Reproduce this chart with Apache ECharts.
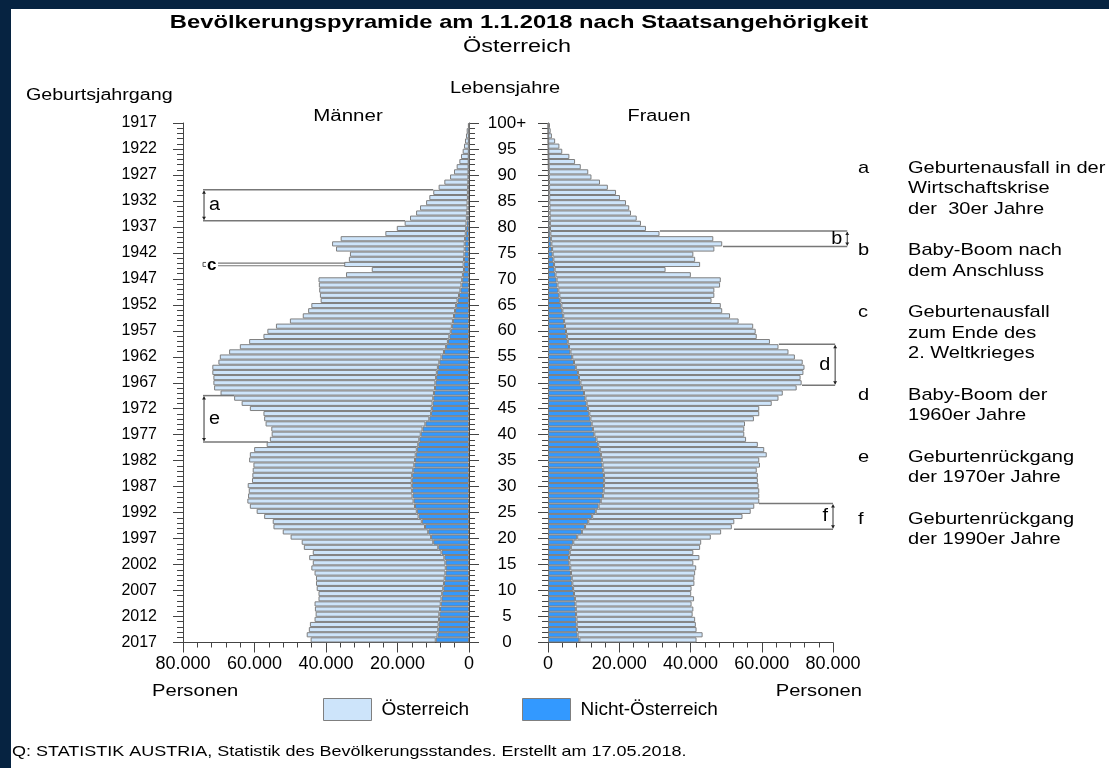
<!DOCTYPE html>
<html>
<head>
<meta charset="utf-8">
<title>Bevölkerungspyramide 2018</title>
<script src="https://cdn.jsdelivr.net/npm/echarts@6/dist/echarts.min.js"></script>
<style>
  html, body { margin: 0; padding: 0; background: #062341; }
  #panel { position: absolute; left: 11px; top: 9px; width: 1098px; height: 759px; background: #fff; }
  #chart { position: absolute; left: 0; top: 0; width: 1109px; height: 768px; }
</style>
</head>
<body>
<div id="panel"></div>
<div id="chart"></div>
<script>
// Lebensjahre 0 .. 100+ (Index = Alter)
var ages = [];
for (var i = 0; i <= 100; i++) ages.push(i === 100 ? '100+' : String(i));

// Achsenbeschriftung alle 5 Jahre
var ageLabels = ['0', '5', '10', '15', '20', '25', '30', '35', '40', '45', '50',
  '55', '60', '65', '70', '75', '80', '85', '90', '95', '100+'];
var yearLabels = ['2017', '2012', '2007', '2002', '1997', '1992', '1987', '1982', '1977', '1972', '1967',
  '1962', '1957', '1952', '1947', '1942', '1937', '1932', '1927', '1922', '1917'];

// Männer, Personen je Alter (0 .. 100+)
var menAT = [35000, 36600, 36200, 36000, 34800, 34600, 35000, 35300, 34400, 34600,
  35400, 35800, 36000, 36600, 37600, 37100, 37800, 36000, 37600, 36800,
  39300, 40700, 42400, 41700, 43200, 44800, 46200, 46500, 46000, 45700,
  45900, 44700, 44700, 44900, 45000, 46400, 46400, 45500, 42400, 41800,
  41700, 42300, 44700, 46200, 46900, 50900, 53400, 55700, 59700, 61800,
  62100, 62300, 62800, 63100, 61800, 62000, 60100, 57700, 55600, 52000,
  51300, 49200, 45600, 42300, 41100, 40500, 38300, 38900, 39500, 39900,
  40200, 32700, 25800, 33400, 32200, 32000, 36000, 37100, 34800, 22500,
  19400, 17300, 15900, 14300, 13300, 11600, 10800, 9700, 8250, 6700,
  5130, 4060, 3340, 2610, 2170, 1720, 1360, 1090, 820, 635,
  290];
var menNonAT = [9300, 8800, 8600, 8500, 8400, 8300, 8100, 7900, 7700, 7500,
  7200, 7000, 6800, 6600, 6500, 6600, 6900, 7700, 8600, 10000,
  10600, 11400, 12300, 13200, 14100, 14600, 15100, 15500, 15800, 15900,
  16000, 16000, 15900, 15600, 15300, 15100, 14900, 14600, 14200, 13900,
  13500, 13000, 12200, 11100, 10600, 10400, 10200, 10000, 9800, 9500,
  9400, 9200, 9000, 8700, 8300, 7700, 7000, 6400, 5900, 5500,
  5100, 4800, 4500, 4200, 3900, 3600, 3200, 2800, 2400, 2100,
  1900, 1700, 1400, 1500, 1400, 1300, 1200, 1200, 1100, 900,
  800, 700, 600, 500, 400, 400, 300, 300, 250, 200,
  170, 140, 110, 90, 70, 50, 40, 30, 20, 15,
  10];

// Frauen
var womenAT = [32900, 35100, 33550, 33450, 33320, 32720, 33000, 32600, 33450, 32900,
  33250, 34270, 34450, 34850, 35350, 34800, 36600, 34700, 36300, 35900,
  37500, 39100, 41200, 41000, 42200, 43500, 43700, 44500, 43900, 43700,
  43400, 43150, 43200, 43100, 44200, 44200, 46550, 46200, 44800, 42000,
  42100, 42500, 43050, 45900, 47700, 48100, 51950, 54200, 55800, 60300,
  62100, 62200, 63300, 64200, 64200, 62500, 61200, 58800, 56750, 53300,
  53250, 52830, 48980, 46830, 44880, 44750, 42450, 43520, 43800, 45650,
  46100, 38000, 31150, 41000, 39800, 39500, 45550, 47960, 45600, 30650,
  26940, 25580, 24420, 22860, 22400, 21540, 19860, 18780, 16500, 14320,
  11950, 11080, 9010, 7440, 5870, 3900, 3120, 1940, 1060, 725,
  545];
var womenNonAT = [8800, 8300, 8150, 8050, 7980, 7880, 7800, 7700, 7550, 7300,
  7050, 6830, 6650, 6450, 6250, 6000, 5900, 6100, 6400, 7100,
  8200, 9500, 10400, 11300, 12400, 13400, 14200, 14800, 15400, 15600,
  15700, 15750, 15700, 15500, 15300, 15100, 14850, 14500, 14100, 13600,
  13000, 12600, 12250, 11900, 11600, 11200, 10850, 10500, 10100, 9500,
  9100, 8700, 8400, 7800, 7300, 6800, 6300, 5900, 5550, 5300,
  5050, 4770, 4520, 4270, 4020, 3750, 3450, 3180, 2900, 2650,
  2400, 2100, 1850, 1700, 1500, 1300, 1150, 940, 800, 650,
  560, 520, 480, 440, 400, 360, 340, 320, 300, 280,
  250, 220, 190, 160, 130, 100, 80, 60, 40, 25,
  15];

// Markierungen a-f: Altersbereich und Endpunkte der Linien (Personen)
var brackets = [
  { key: 'a', side: 0, from: 82, to: 87, edge: 74400, topTo: 10000, bottomTo: 17900 },
  { key: 'e', side: 0, from: 39, to: 47, edge: 74400, topTo: 65700, bottomTo: 56200 },
  { key: 'b', side: 1, from: 77, to: 79, edge: 84000, topTo: 31400, bottomTo: 49100 },
  { key: 'd', side: 1, from: 50, to: 57, edge: 80600, topTo: 64800, bottomTo: 71300 },
  { key: 'f', side: 1, from: 22, to: 26, edge: 80000, topTo: 59200, bottomTo: 52200 }
];
var markC = { age: 73, edge: 74400, lineFrom: 70200, lineTo: 34700 };

var notes = [
  ['a', 'Geburtenausfall in der\nWirtschaftskrise\nder  30er Jahre'],
  ['b', 'Baby-Boom nach\ndem Anschluss'],
  ['c', 'Geburtenausfall\nzum Ende des\n2. Weltkrieges'],
  ['d', 'Baby-Boom der\n1960er Jahre'],
  ['e', 'Geburtenrückgang\nder 1970er Jahre'],
  ['f', 'Geburtenrückgang\nder 1990er Jahre']
];

var FONT = '"Liberation Sans", Arial, sans-serif';
var LIGHT = '#cde4fa';
var DARK = '#3399ff';
var EDGE = '#7f7f7f';
var AXIS = '#444';

function fmtPers(v) {
  return v === 0 ? '0' : (v / 1000) + '.000';
}

function mkX(idx, inverse) {
  return {
    type: 'value', gridIndex: idx, inverse: inverse, min: 0, max: 80000, interval: 20000,
    axisLine: { show: true, lineStyle: { color: AXIS } },
    axisTick: { show: true, length: 10, lineStyle: { color: AXIS } },
    minorTick: { show: true, splitNumber: 5, length: 5, lineStyle: { color: AXIS } },
    splitLine: { show: false },
    axisLabel: { fontSize: 18, color: '#000', margin: 13, formatter: fmtPers }
  };
}

function mkAgeAxis(idx, pos, labels, margin, align, size) {
  return {
    type: 'value', gridIndex: idx, position: pos, min: 0, max: 100, interval: 5,
    axisLine: { show: true, lineStyle: { color: AXIS } },
    axisTick: { show: true, length: 10, lineStyle: { color: AXIS } },
    minorTick: { show: true, splitNumber: 5, length: 6, lineStyle: { color: AXIS } },
    splitLine: { show: false },
    axisLabel: labels ? {
      fontSize: size, color: '#000', margin: margin, align: align,
      formatter: function (v) { return labels[Math.round(v / 5)]; }
    } : { show: false }
  };
}

function bar(name, side, stack, data, color) {
  return {
    name: name, type: 'bar', xAxisIndex: side, yAxisIndex: side === 0 ? 0 : 3,
    stack: stack, data: data, barCategoryGap: '0%',
    itemStyle: { color: color, borderColor: EDGE, borderWidth: 1 }
  };
}

var legendBase = {
  top: 698, padding: 0, itemWidth: 48, itemHeight: 22, selectedMode: false, icon: 'rect',
  itemStyle: { borderColor: EDGE, borderWidth: 1 },
  textStyle: { fontSize: 19, color: '#000', padding: [0, 0, 0, 5] }
};

var option = {
  animation: false,
  backgroundColor: 'transparent',
  textStyle: { fontFamily: FONT },
  legend: [
    Object.assign({ data: ['Österreich'], left: 323 }, legendBase),
    Object.assign({ data: ['Nicht-Österreich'], left: 522 }, legendBase)
  ],
  grid: [
    { left: 183, top: 123, width: 286, height: 519.5 },
    { left: 548, top: 123, width: 285, height: 519.5 }
  ],
  xAxis: [mkX(0, true), mkX(1, false)],
  yAxis: [
    { type: 'category', gridIndex: 0, data: ages, show: false },
    mkAgeAxis(0, 'left', yearLabels, 26, 'right', 16),
    mkAgeAxis(0, 'right', ageLabels, 38, 'center', 17),
    { type: 'category', gridIndex: 1, data: ages, show: false },
    mkAgeAxis(1, 'left', null)
  ],
  series: [
    bar('Nicht-Österreich', 0, 'm', menNonAT, DARK),
    bar('Österreich', 0, 'm', menAT, LIGHT),
    bar('Nicht-Österreich', 1, 'w', womenNonAT, DARK),
    bar('Österreich', 1, 'w', womenAT, LIGHT)
  ]
};

var chart = echarts.init(document.getElementById('chart'), null, { renderer: 'canvas' });
chart.setOption(option);

// Texte und Markierungen (Originalschrift ist breiter laufend -> scaleX)
var g = [];
function txt(x, y, s, size, align, weight, sx, vAlign, lh) {
  g.push({
    type: 'text', x: x, y: y, scaleX: sx || 1, silent: true, z: 100,
    style: {
      text: s, fill: '#000', font: (weight || 'normal') + ' ' + size + 'px ' + FONT,
      align: align || 'left', verticalAlign: vAlign || 'middle', lineHeight: lh || size
    }
  });
}
function ln(x1, y1, x2, y2, color, w) {
  g.push({ type: 'line', silent: true, z: 100, shape: { x1: x1, y1: y1, x2: x2, y2: y2 },
    style: { stroke: color || '#777', lineWidth: w || 1.5 } });
}
function tip(x, y, dir) {
  g.push({ type: 'polygon', silent: true, z: 101,
    shape: { points: [[x - 2, y - 3 * dir], [x + 2, y - 3 * dir], [x, y]] },
    style: { fill: '#222' } });
}

txt(519, 23, 'Bevölkerungspyramide am 1.1.2018 nach Staatsangehörigkeit', 19, 'center', 'bold', 1.25);
txt(517, 47, 'Österreich', 18, 'center', 'normal', 1.3);
txt(26, 96, 'Geburtsjahrgang', 16, 'left', 'normal', 1.23);
txt(505, 89, 'Lebensjahre', 16, 'center', 'normal', 1.25);
txt(348, 117, 'Männer', 16, 'center', 'normal', 1.28);
txt(659, 117, 'Frauen', 16, 'center', 'normal', 1.24);
txt(152, 692, 'Personen', 16, 'left', 'normal', 1.26);
txt(862, 692, 'Personen', 16, 'right', 'normal', 1.26);
txt(12, 752, 'Q: STATISTIK AUSTRIA, Statistik des Bevölkerungsstandes. Erstellt am 17.05.2018.', 15, 'left', 'normal', 1.2);

var noteY = 168;
notes.forEach(function (n) {
  var lines = n[1].split('\n').length;
  txt(858, noteY - 10, n[0], 17, 'left', 'normal', 1.18, 'top', 20.5);
  txt(908, noteY - 10, n[1], 17, 'left', 'normal', 1.18, 'top', 20.5);
  noteY += lines * 20.5 + 21;
});

function px(side, v) { return chart.convertToPixel({ xAxisIndex: side }, v); }
function py(side, age) { return chart.convertToPixel({ yAxisIndex: side === 0 ? 0 : 3 }, ages[age]); }
var half = (py(0, 0) - py(0, 1)) / 2;

brackets.forEach(function (b) {
  var yTop = py(b.side, b.to) - half;
  var yBot = py(b.side, b.from) + half;
  var xe = px(b.side, b.edge);
  ln(xe, yTop, px(b.side, b.topTo), yTop);
  ln(xe, yBot, px(b.side, b.bottomTo), yBot);
  var xv = b.side === 0 ? xe + 1 : xe;
  ln(xv, yTop + 1, xv, yBot - 1, '#333', 1);
  tip(xv, yTop + 1, -1);
  tip(xv, yBot - 1, 1);
  var mid = (yTop + yBot) / 2;
  if (b.side === 0) txt(xe + 6, mid, b.key, 18, 'left', 'normal', 1.1);
  else txt(xe - 5, mid, b.key, 18, 'right', 'normal', 1.1);
});

var yc = py(0, markC.age);
var xc = px(0, markC.edge);
ln(px(0, markC.lineFrom), yc - 1.3, px(0, markC.lineTo), yc - 1.3, '#777', 1.2);
ln(px(0, markC.lineFrom), yc + 1.3, px(0, markC.lineTo), yc + 1.3, '#777', 1.2);
g.push({ type: 'polyline', silent: true, z: 100,
  shape: { points: [[xc + 3, yc - 2], [xc, yc - 2], [xc, yc + 2], [xc + 3, yc + 2]] },
  style: { stroke: '#555', lineWidth: 1, fill: null } });
txt(xc + 4, yc + 1, 'c', 17, 'left', 'bold');

chart.setOption({ graphic: g });
</script>
</body>
</html>
